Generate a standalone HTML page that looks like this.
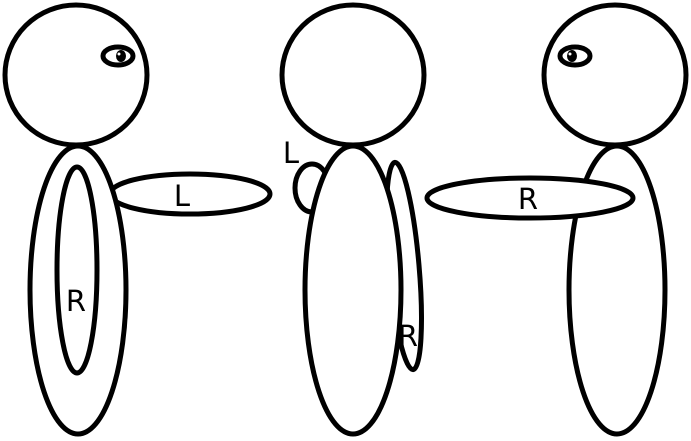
<!DOCTYPE html>
<html><head><meta charset="utf-8"><style>html,body{margin:0;padding:0;background:#fff;width:691px;height:441px;overflow:hidden}</style></head>
<body>
<svg width="691" height="441" viewBox="0 0 691 441" xmlns="http://www.w3.org/2000/svg" font-family="'DejaVu Sans','Liberation Sans',sans-serif" font-size="29" fill="#fff" stroke="#000" stroke-width="5">
  <g>
    <ellipse cx="190" cy="194" rx="80" ry="20"/>
    <ellipse cx="78" cy="290" rx="48" ry="144"/>
    <ellipse cx="77" cy="270" rx="20" ry="103"/>
    <ellipse cx="76" cy="75" rx="71" ry="70"/>
    <ellipse cx="118" cy="56" rx="15" ry="9"/>
    <ellipse cx="121" cy="56" rx="5" ry="6" fill="#000" stroke="none"/>
    <circle cx="119" cy="54" r="1.5" fill="#fff" stroke="none"/>
    <text x="182" y="206" text-anchor="middle" fill="#000" stroke="none">L</text>
    <text x="76" y="311" text-anchor="middle" fill="#000" stroke="none">R</text>
  </g>
  <g>
    <ellipse cx="312" cy="188" rx="17" ry="24"/>
    <ellipse cx="404" cy="266" rx="15" ry="104" transform="rotate(-5 404 266)"/>
    <ellipse cx="353" cy="290" rx="48" ry="144"/>
    <ellipse cx="353" cy="75" rx="71" ry="70"/>
    <text x="291" y="163" text-anchor="middle" fill="#000" stroke="none">L</text>
    <text x="408" y="346" text-anchor="middle" fill="#000" stroke="none">R</text>
  </g>
  <g>
    <ellipse cx="617" cy="290" rx="48" ry="144"/>
    <ellipse cx="530" cy="198" rx="103" ry="20"/>
    <ellipse cx="615" cy="75" rx="71" ry="70"/>
    <ellipse cx="575" cy="56" rx="15" ry="9"/>
    <ellipse cx="572" cy="56" rx="5" ry="6" fill="#000" stroke="none"/>
    <circle cx="570" cy="54" r="1.5" fill="#fff" stroke="none"/>
    <text x="528" y="209" text-anchor="middle" fill="#000" stroke="none">R</text>
  </g>
</svg>
</body></html>
